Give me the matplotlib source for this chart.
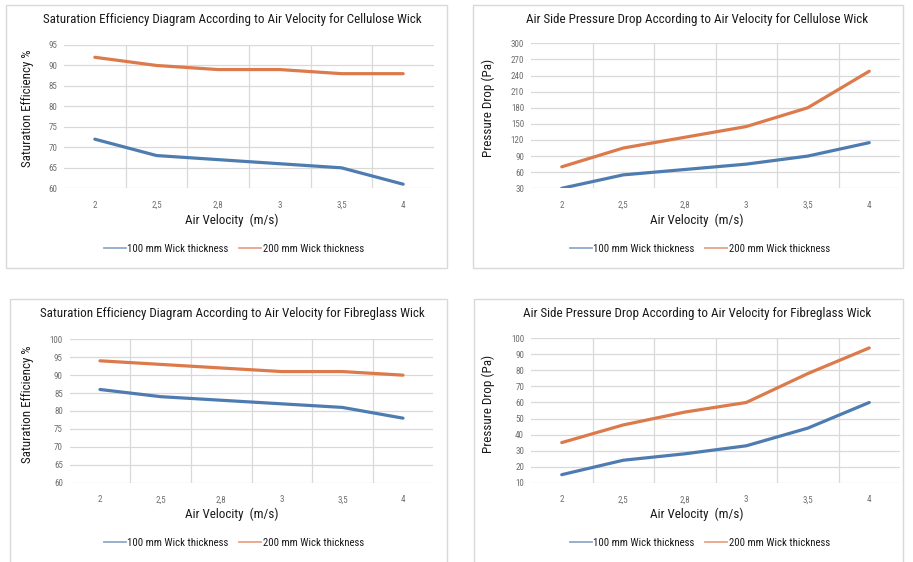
import matplotlib
matplotlib.use("Agg")
import matplotlib.pyplot as plt
from matplotlib.patches import Rectangle
from matplotlib.lines import Line2D
from matplotlib import font_manager
from matplotlib.font_manager import FontProperties

# prefer a narrow/condensed face if one is installed
cands = [f for f in font_manager.fontManager.ttflist
         if ("Narrow" in f.fname or "Condensed" in f.fname or "Narrow" in f.name or "Condensed" in f.name)
         and f.style == "normal" and f.weight in (400, "normal", "regular")]
cands.sort(key=lambda f: (0 if "Liberation" in f.fname else 1 if "Roboto" in f.fname else 2 if "Open" in f.fname else 3))
if cands:
    FP = dict(fname=cands[0].fname)
else:
    FP = dict(family="Liberation Sans")

def fprop(size):
    return FontProperties(size=size, **FP)

categories = ["2", "2,5", "2,8", "3", "3,5", "4"]
series_names = ["100 mm Wick thickness", "200 mm Wick thickness"]

cell_sat_100 = [72, 68, 67, 66, 65, 61]
cell_sat_200 = [92, 90, 89, 89, 88, 88]
cell_dp_100 = [30, 55, 65, 75, 90, 115]
cell_dp_200 = [70, 105, 125, 145, 180, 248]
fib_sat_100 = [86, 84, 83, 82, 81, 78]
fib_sat_200 = [94, 93, 92, 91, 91, 90]
fib_dp_100 = [15, 24, 28, 33, 44, 60]
fib_dp_200 = [35, 46, 54, 60, 78, 94]

titles = [
    "Saturation Efficiency Diagram According to Air Velocity for Cellulose Wick",
    "Air Side Pressure Drop According to Air Velocity for Cellulose Wick",
    "Saturation Efficiency Diagram According to Air Velocity for Fibreglass Wick",
    "Air Side Pressure Drop According to Air Velocity for Fibreglass Wick",
]
ylabels = ["Saturation Efficiency %", "Pressure Drop (Pa)",
           "Saturation Efficiency %", "Pressure Drop (Pa)"]
xlabel = "Air Velocity  (m/s)"
yticks_list = [list(range(60, 96, 5)), list(range(30, 301, 30)),
               list(range(60, 101, 5)), list(range(10, 101, 10))]
data = [(cell_sat_100, cell_sat_200), (cell_dp_100, cell_dp_200),
        (fib_sat_100, fib_sat_200), (fib_dp_100, fib_dp_200)]

W, H = 913, 562
fig = plt.figure(figsize=(W / 100, H / 100), dpi=100)
renderer = fig.canvas.get_renderer()

def fx(p):
    return p / W

def fy(p):
    return 1 - p / H

def fit_size(text, target_px, maxsize):
    t = fig.text(0, 0, text, fontproperties=fprop(10))
    w = t.get_window_extent(renderer).width
    t.remove()
    return min(maxsize, 10 * target_px / w)

TITLE_FS = fit_size(titles[0], 376, 11)
LEG_FS = fit_size(series_names[0], 100, 9)
TICK_FS = min(TITLE_FS * 0.7, 6.5)

BLUE = "#4f7cb0"
ORANGE = "#dc7a4c"
GRID = "#d9d9d9"
TXT = "#1a1a1a"
TICK = "#6f6f6f"

layouts = [
    dict(area=(64, 434, 45, 188.3), box=(6, 447, 5, 268), title=(232, 20), ylab=(27, 108),
         xlab=(232, 220), leg=(234, 249)),
    dict(area=(531, 900, 43.3, 188.3), box=(473, 903, 5, 268), title=(697, 20), ylab=(488, 108),
         xlab=(697, 220), leg=(700, 249)),
    dict(area=(69.7, 433.3, 339.3, 482.7), box=(10, 447, 299, 570), title=(232, 314), ylab=(27, 404),
         xlab=(232, 514), leg=(234, 543)),
    dict(area=(531, 900, 338.3, 482.7), box=(474, 903, 299, 570), title=(697, 314), ylab=(488, 404),
         xlab=(697, 514), leg=(700, 543)),
]

for i, lay in enumerate(layouts):
    bl, br, bt, bb = lay["box"]
    fig.patches.append(Rectangle((fx(bl), fy(bb)), fx(br - bl), (bb - bt) / H,
                                 transform=fig.transFigure, fill=False,
                                 edgecolor=GRID, linewidth=1.0))
    l, r, t, b = lay["area"]
    ax = fig.add_axes([fx(l), fy(b), fx(r - l), (b - t) / H])
    x = list(range(len(categories)))
    s100, s200 = data[i]
    ax.plot(x, s100, color=BLUE, lw=2.3, solid_capstyle="round", zorder=3)
    ax.plot(x, s200, color=ORANGE, lw=2.3, solid_capstyle="round", zorder=3)
    yt = yticks_list[i]
    ax.set_xlim(-0.5, len(categories) - 0.5)
    ax.set_ylim(yt[0], yt[-1])
    ax.set_yticks(yt)
    ax.set_yticklabels([str(v) for v in yt], fontproperties=fprop(TICK_FS))
    ax.set_xticks(x)
    ax.set_xticklabels(categories, fontproperties=fprop(TICK_FS))
    for v in yt:
        ax.axhline(v, color=GRID, lw=0.9, zorder=1)
    for k in range(1, len(categories)):
        ax.axvline(k - 0.5, color=GRID, lw=0.9, zorder=1)
    for sp in ax.spines.values():
        sp.set_visible(False)
    ax.tick_params(length=0, colors=TICK, pad=5)
    ax.tick_params(axis="x", pad=9)
    ax.set_facecolor("none")
    fig.text(fx(lay["title"][0]), fy(lay["title"][1]), titles[i], ha="center", va="center",
             fontproperties=fprop(TITLE_FS), color=TXT)
    fig.text(fx(lay["ylab"][0]), fy(lay["ylab"][1]), ylabels[i], ha="center", va="center",
             rotation=90, fontproperties=fprop(TITLE_FS), color=TXT)
    fig.text(fx(lay["xlab"][0]), fy(lay["xlab"][1]), xlabel, ha="center", va="center",
             fontproperties=fprop(TITLE_FS), color=TXT)
    handles = [Line2D([], [], color="#8fa9c9", lw=1.3), Line2D([], [], color="#e8a388", lw=1.3)]
    fig.legend(handles, series_names, loc="center",
               bbox_to_anchor=(fx(lay["leg"][0]), fy(lay["leg"][1])), ncol=2, frameon=False,
               prop=fprop(LEG_FS), handlelength=2.0, handletextpad=0.15, columnspacing=1.0,
               labelcolor=TXT)

fig.savefig("out.png", dpi=100, facecolor="white")
